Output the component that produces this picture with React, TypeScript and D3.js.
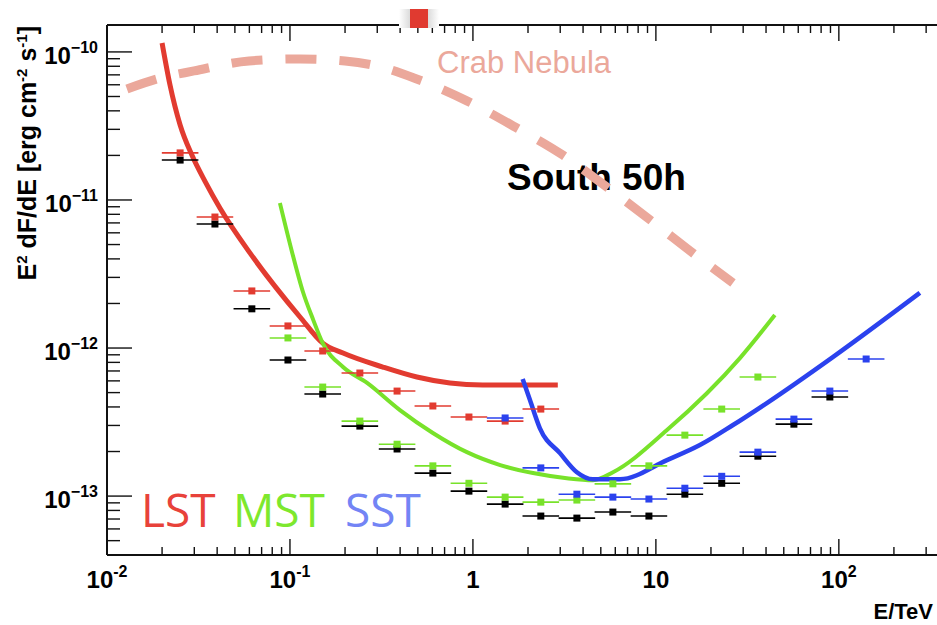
import React from 'react';
import * as d3 from 'd3';

// energy bin centres (TeV), 5 bins per decade
const binE = [0.0251, 0.0389, 0.0619, 0.0975, 0.151, 0.241, 0.385, 0.604, 0.951, 1.5, 2.35, 3.7, 5.82, 9.16, 14.4, 22.9, 36.1, 56.8, 89.3, 141];
const binHalfWidth = 0.1; // decades

// sensitivity points, E^2 dF/dE in erg cm^-2 s^-1
const lstE = binE.slice(0, 11);
const lstF = [2.08e-11, 7.67e-12, 2.43e-12, 1.41e-12, 9.55e-13, 6.78e-13, 5.12e-13, 4.06e-13, 3.42e-13, 3.21e-13, 3.87e-13];
const mstE = binE.slice(3, 17);
const mstF = [1.17e-12, 5.45e-13, 3.21e-13, 2.24e-13, 1.6e-13, 1.22e-13, 9.84e-14, 9.1e-14, 9.4e-14, 1.21e-13, 1.6e-13, 2.58e-13, 3.87e-13, 6.37e-13];
const sstE = binE.slice(9, 20);
const sstF = [3.37e-13, 1.55e-13, 1.03e-13, 9.84e-14, 9.55e-14, 1.13e-13, 1.36e-13, 1.98e-13, 3.31e-13, 5.12e-13, 8.43e-13];
const allE = binE.slice(0, 19);
const allF = [1.86e-11, 6.88e-12, 1.84e-12, 8.3e-13, 4.89e-13, 2.97e-13, 2.08e-13, 1.43e-13, 1.08e-13, 8.83e-14, 7.33e-14, 7.1e-14, 7.8e-14, 7.33e-14, 1.03e-13, 1.22e-13, 1.86e-13, 3.06e-13, 4.67e-13];

// sensitivity curves
const lstCurveE = [0.02, 0.0221, 0.0251, 0.0291, 0.0344, 0.0414, 0.0604, 0.1135, 0.151, 0.195, 0.322, 0.494, 0.749, 1.13, 2.91];
const lstCurveF = [1.15e-10, 5.98e-11, 3.21e-11, 2.01e-11, 1.33e-11, 8.83e-12, 4.39e-12, 1.62e-12, 1.08e-12, 9.25e-13, 7.44e-13, 6.37e-13, 5.8e-13, 5.62e-13, 5.62e-13];
const mstCurveE = [0.0881, 0.1026, 0.1178, 0.134, 0.151, 0.195, 0.264, 0.399, 0.604, 0.927, 1.41, 2.13, 3.26, 4.53, 5.83, 11.5, 28.8, 44.7];
const mstCurveF = [9.55e-12, 4.46e-12, 2.39e-12, 1.55e-12, 1.08e-12, 7.44e-13, 5.81e-13, 3.81e-13, 2.67e-13, 1.98e-13, 1.62e-13, 1.43e-13, 1.32e-13, 1.28e-13, 1.45e-13, 2.79e-13, 8.55e-13, 1.67e-12];
const sstCurveE = [1.87, 2.05, 2.32, 2.99, 3.7, 4.53, 6.36, 11.5, 17.4, 26.4, 40.4, 92.7, 277];
const sstCurveF = [6.18e-13, 4.45e-13, 2.88e-13, 1.95e-13, 1.45e-13, 1.3e-13, 1.3e-13, 1.75e-13, 2.21e-13, 3.02e-13, 4.25e-13, 8.69e-13, 2.36e-12];
const crabE = [0.01285, 0.01875, 0.0299, 0.0597, 0.1135, 0.2, 0.299, 0.476, 0.927, 1.7, 3.1, 5.4, 9.63, 17.0, 26.4];
const crabF = [5.62e-11, 6.57e-11, 7.44e-11, 8.69e-11, 8.97e-11, 8.69e-11, 8.04e-11, 6.67e-11, 4.67e-11, 3.11e-11, 2.01e-11, 1.22e-11, 7.1e-12, 4.12e-12, 2.75e-12];

// tick labels
const xTickLabels = [
    { v: 0.01, base: '10', exp: '-2' },
    { v: 0.1, base: '10', exp: '-1' },
    { v: 1, base: '1', exp: '' },
    { v: 10, base: '10', exp: '' },
    { v: 100, base: '10', exp: '2' },
];
const yTickLabels = [
    { v: 1e-10, exp: '\u221210' },
    { v: 1e-11, exp: '\u221211' },
    { v: 1e-12, exp: '\u221212' },
    { v: 1e-13, exp: '\u221213' },
];

const RED = '#e23b30';
const GREEN = '#78e22a';
const BLUE = '#2b42ee';
const CRAB = '#eba89b';
const FONT = '"Liberation Sans", Arial, Helvetica, sans-serif';

export default function App() {
    const W = 937, H = 625;
    const left = 107, top = 25, bottom = 555, right = 949;

    const x = d3.scaleLog().domain([0.01, 400]).range([left, right]);
    const y = d3.scaleLog().domain([4e-14, 1.52e-10]).range([bottom, top]);

    const line = d3.line<[number, number]>()
        .x(d => x(d[0]))
        .y(d => y(d[1]))
        .curve(d3.curveMonotoneX);
    const zip = (es: number[], fs: number[]) => es.map((e, i) => [e, fs[i]] as [number, number]);

    const isMajor = (v: number) => Math.abs(Math.log10(v) - Math.round(Math.log10(v))) < 1e-6;
    const spread = Math.pow(10, binHalfWidth);

    const points = (es: number[], fs: number[], color: string, key: string) =>
        es.map((e, i) => {
            const cx = x(e), cy = y(fs[i]);
            return (
                <g key={key + i}>
                    <line x1={x(e / spread)} x2={x(e * spread)} y1={cy} y2={cy} stroke={color} strokeWidth={1.6} />
                    <rect x={cx - 3.5} y={cy - 3.5} width={7} height={7} fill={color} />
                </g>
            );
        });

    return (
        <svg width={W} height={H} style={{ position: 'absolute', left: 0, top: 0, background: '#fff' }} fontFamily={FONT}>
            <defs>
                <linearGradient id="halo" x1="0" x2="1" y1="0" y2="0">
                    <stop offset="0" stopColor="#fff" />
                    <stop offset="0.3" stopColor="#d8d8d8" />
                    <stop offset="0.7" stopColor="#d8d8d8" />
                    <stop offset="1" stopColor="#fff" />
                </linearGradient>
            </defs>

            {/* frame */}
            <line x1={left} x2={W} y1={top} y2={top} stroke="#111" strokeWidth={2} />
            <line x1={left} x2={W} y1={bottom} y2={bottom} stroke="#111" strokeWidth={2} />
            <line x1={left} x2={left} y1={top} y2={bottom} stroke="#111" strokeWidth={2} />

            {/* x ticks, bottom and top */}
            {x.ticks().map((v, i) => {
                const px = x(v);
                const len = isMajor(v) ? 16 : 8;
                return (
                    <g key={'xt' + i} stroke="#111" strokeWidth={1.4}>
                        <line x1={px} x2={px} y1={bottom} y2={bottom - len} />
                        <line x1={px} x2={px} y1={top} y2={top + len} />
                    </g>
                );
            })}
            {/* y ticks */}
            {y.ticks().map((v, i) => {
                const py = y(v);
                const len = isMajor(v) ? 25 : 13;
                return <line key={'yt' + i} x1={left} x2={left + len} y1={py} y2={py} stroke="#111" strokeWidth={1.4} />;
            })}

            {/* tick labels */}
            {xTickLabels.map(t => (
                <text key={'xl' + t.v} x={x(t.v)} y={588} textAnchor="middle" fontSize={24} fontWeight="bold" fill="#000">
                    {t.base}
                    {t.exp && <tspan dy={-11} fontSize={16}>{t.exp}</tspan>}
                </text>
            ))}
            {yTickLabels.map(t => (
                <text key={'yl' + t.v} x={98} y={y(t.v) + 12} textAnchor="end" fontSize={24} fontWeight="bold" fill="#000">
                    10<tspan dy={-11} fontSize={16}>{t.exp}</tspan>
                </text>
            ))}

            {/* axis titles */}
            <text x={933} y={619} textAnchor="end" fontSize={22} fontWeight="bold" fill="#000">E/TeV</text>
            <text transform="translate(36,26) rotate(-90)" textAnchor="end" fontSize={25} fontWeight="bold" fill="#000">
                E<tspan dy={-9} fontSize={15}>2</tspan>
                <tspan dy={9}> dF/dE [erg cm</tspan>
                <tspan dy={-9} fontSize={15}>-2</tspan>
                <tspan dy={9}> s</tspan>
                <tspan dy={-9} fontSize={15}>-1</tspan>
                <tspan dy={9}>]</tspan>
            </text>

            {/* labels */}
            <text x={507} y={190} fontSize={37} fontWeight="bold" fill="#000">South 50h</text>
            <text x={437} y={73} fontSize={31} fill={CRAB}>Crab Nebula</text>
            <g fontFamily='"Open Sans", sans-serif' fontSize={46}>
                <text x={141} y={527} fill="#e8423a">LST</text>
                <text x={233} y={527} fill="#7de82e">MST</text>
                <text x={345} y={527} fill="#7384f5">SST</text>
            </g>

            {/* Crab Nebula spectrum */}
            <path d={line(zip(crabE, crabF)) || ''} fill="none" stroke={CRAB} strokeWidth={9} strokeDasharray="31 23" />

            {/* sensitivity curves */}
            <path d={line(zip(lstCurveE, lstCurveF)) || ''} fill="none" stroke={RED} strokeWidth={5} />
            <path d={line(zip(mstCurveE, mstCurveF)) || ''} fill="none" stroke={GREEN} strokeWidth={4} />
            <path d={line(zip(sstCurveE, sstCurveF)) || ''} fill="none" stroke={BLUE} strokeWidth={4.5} />

            {/* binned points */}
            {points(allE, allF, '#000', 'all')}
            {points(lstE, lstF, RED, 'lst')}
            {points(mstE, mstF, GREEN, 'mst')}
            {points(sstE, sstF, BLUE, 'sst')}

            {/* marker at top */}
            <rect x={399} y={9} width={40} height={19} fill="url(#halo)" />
            <rect x={410} y={9} width={18} height={19} fill="#e03a30" />
        </svg>
    );
}
